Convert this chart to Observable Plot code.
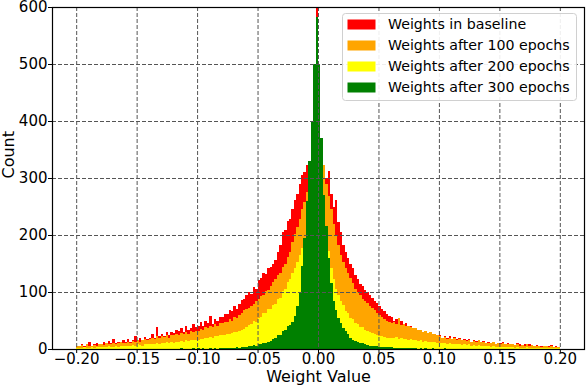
<!DOCTYPE html>
<html><head><meta charset="utf-8">
<script src="https://cdn.jsdelivr.net/npm/d3@7"></script>
<script src="https://cdn.jsdelivr.net/npm/@observablehq/plot@0.6"></script>
<style>body{margin:0;background:#fff}</style>
</head><body><div id="chart"></div>
<script>
const binStart = -0.2;
const binWidth = 0.002;
const seriesNames = ["Weights in baseline", "Weights after 100 epochs", "Weights after 200 epochs", "Weights after 300 epochs"];
const seriesColors = ["#ff0000", "#ffa500", "#ffff00", "#008000"];
const xTicks = [-0.2, -0.15, -0.1, -0.05, 0, 0.05, 0.1, 0.15, 0.2];
const yTicks = [0, 100, 200, 300, 400, 500, 600];

const red = [
6,4,9,5,7,12,6,8,10,7,
9,12,8,14,11,18,10,13,12,15,
13,17,12,16,22,15,19,14,21,18,
20,26,19,38,23,27,22,30,25,29,
28,34,31,37,29,40,33,36,44,39,
41,47,40,50,46,58,44,52,49,56,
56,62,61,68,66,75,71,79,86,88,
94,100,97,108,106,121,124,133,131,142,
143,150,156,170,182,205,208,224,228,246,
262,272,290,305,310,322,328,332,338,620,
330,330,318,300,313,272,250,262,222,205,
182,170,160,150,142,130,122,114,110,104,
100,95,90,85,80,76,70,66,62,58,
56,50,53,47,49,42,45,40,41,36,
36,31,34,28,30,26,29,24,27,23,
25,20,23,19,22,18,21,17,20,16,
18,15,17,13,16,14,15,12,14,11,
13,10,12,9,11,10,12,8,10,9,
9,7,10,8,7,9,6,8,7,6,
7,5,6,4,6,5,7,4,5,3
];
const orange = [
6,5,7,4,8,6,5,7,6,8,
8,7,10,9,8,11,9,10,12,10,
11,13,10,14,12,16,13,15,17,16,
18,20,17,22,19,23,21,24,20,25,
24,27,25,28,26,29,27,31,29,32,
32,35,33,38,36,40,38,43,41,45,
46,48,47,52,50,56,55,60,63,68,
70,72,75,79,85,87,93,95,101,104,
110,118,122,129,134,143,150,161,171,188,
202,214,228,245,258,275,292,305,315,320,
322,324,322,290,268,245,220,200,182,165,
152,142,133,124,115,106,100,94,88,84,
80,76,72,68,64,60,56,52,50,47,
45,48,43,55,42,44,40,41,38,37,
36,33,34,30,31,28,29,26,27,25,
22,20,21,18,20,17,19,16,18,16,
15,14,16,13,14,12,15,12,13,11,
11,10,12,9,10,9,11,8,9,8,
8,7,8,6,7,6,8,5,7,6,
5,6,4,5,5,4,5,3,4,3
];
const yellow = [
1,2,1,3,2,2,3,2,4,3,
3,4,3,5,4,3,5,4,6,5,
5,6,5,7,6,8,7,6,8,9,
8,9,8,10,9,11,10,12,11,12,
11,13,12,14,13,15,14,16,15,16,
16,18,17,20,19,21,20,23,22,24,
24,25,26,27,28,29,30,31,33,35,
38,42,43,49,48,55,57,63,64,70,
71,78,79,87,90,102,106,118,122,134,
142,152,165,178,190,200,215,230,245,255,
250,235,215,195,172,142,122,106,94,85,
77,67,63,55,52,46,44,39,38,34,
32,30,28,26,24,23,22,21,20,19,
20,19,21,18,19,17,18,16,17,15,
16,14,15,13,14,12,13,12,13,11,
11,10,11,9,10,8,9,8,9,7,
8,7,8,6,7,6,7,5,6,5,
5,4,5,4,4,3,4,3,3,3,
3,2,3,2,2,2,3,2,1,2,
2,1,2,1,1,1,2,1,1,1
];
const green = [
0,0,0,0,0,0,0,0,0,0,
0,0,0,0,0,0,0,0,0,0,
0,0,0,0,0,0,0,0,0,0,
0,0,0,0,0,0,0,0,0,0,
0,0,0,1,0,0,0,0,1,0,
1,0,1,0,0,1,0,1,0,1,
1,2,1,2,2,1,3,2,3,3,
4,5,5,7,6,8,9,11,10,13,
14,18,19,24,25,31,33,40,42,48,
58,75,98,145,195,260,330,400,500,583,
500,370,270,215,160,115,85,68,55,45,
36,32,26,20,16,14,12,11,10,8,
7,6,6,5,5,4,4,3,3,3,
3,2,2,2,1,2,1,1,1,1,
1,0,1,0,1,0,0,1,0,0,
0,0,1,0,0,0,0,0,0,0,
0,0,0,0,0,0,0,0,0,0,
0,0,0,0,0,0,0,0,0,0,
0,0,0,0,0,0,0,0,0,0,
0,0,0,0,0,0,0,0,0,0
];

const seriesValues = [red, orange, yellow, green];
const rows = seriesValues.flatMap((vals, s) =>
  vals.map((count, i) => ({
    series: seriesNames[s],
    x1: binStart + i * binWidth,
    x2: binStart + (i + 1) * binWidth,
    count
  }))
);

const svg = Plot.plot({
  width: 586, height: 386,
  marginLeft: 52, marginRight: 2, marginTop: 7, marginBottom: 37,
  style: {fontFamily: "DejaVu Sans", fontSize: "15px", background: "white", overflow: "visible"},
  x: {domain: [-0.22, 0.22]},
  y: {domain: [0, 600]},
  color: {domain: seriesNames, range: seriesColors},
  marks: [
    Plot.rect(rows, {x1: "x1", x2: "x2", y1: 0, y2: "count", fill: "series", clip: true, shapeRendering: "crispEdges"}),
    Plot.gridX(xTicks, {stroke: "#555", strokeOpacity: 1, strokeDasharray: "4,2"}),
    Plot.gridY(yTicks.slice(1, -1), {stroke: "#555", strokeOpacity: 1, strokeDasharray: "4,2"}),
    Plot.frame({stroke: "black", strokeWidth: 1.2}),
    Plot.axisX(xTicks, {tickSize: 4, tickPadding: 0, tickFormat: d3.format(".2f"), label: null, fontSize: 15}),
    Plot.axisY(yTicks, {tickSize: 4, tickPadding: 1, label: null, fontSize: 15}),
    Plot.text(["Weight Value"], {frameAnchor: "bottom", dy: 32.5, fontSize: 16, text: d => d}),
    Plot.text(["Count"], {frameAnchor: "left", dx: -44, rotate: -90, fontSize: 16, text: d => d})
  ]
});

const lg = d3.select(svg).append("g")
  .attr("font-family", "DejaVu Sans").attr("font-size", 14.2).attr("text-anchor", "start");
lg.append("rect").attr("x", 342.5).attr("y", 13.5).attr("width", 234).attr("height", 87).attr("rx", 3)
  .style("fill", "#ffffff").style("fill-opacity", 0.9).style("stroke", "#d0d0d0").style("stroke-width", 1);
seriesNames.forEach((name, i) => {
  const cy = 24.5 + i * 21;
  lg.append("rect").attr("x", 347.5).attr("y", cy - 5).attr("width", 28).attr("height", 10)
    .style("fill", seriesColors[i]);
  lg.append("text").attr("x", 388).attr("y", cy).attr("dy", "0.35em")
    .attr("text-anchor", "start").style("fill", "black").text(name);
});

document.getElementById("chart").appendChild(svg);
</script>
</body></html>
